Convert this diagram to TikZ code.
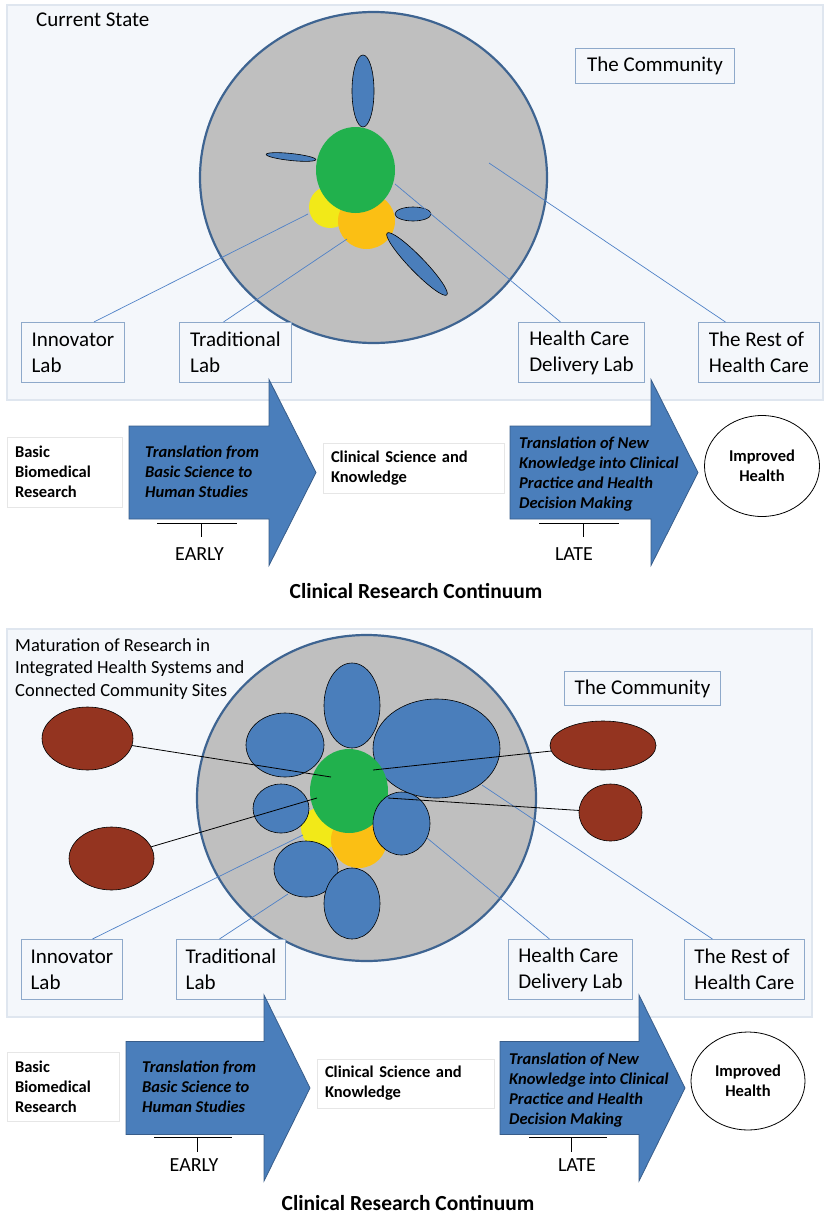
\documentclass[tikz,border=0pt]{standalone}
\usepackage{fontspec}
\setmainfont{Carlito}
\usetikzlibrary{positioning,shapes.geometric}
\definecolor{panelfill}{HTML}{F4F7FB}
\definecolor{panelline}{HTML}{DFE6EF}
\definecolor{boxline}{HTML}{8EA9CA}
\definecolor{rim}{HTML}{3E6491}
\definecolor{worldgray}{HTML}{BFBFBF}
\definecolor{labblue}{HTML}{4A7EBB}
\definecolor{arrowline}{HTML}{385D8A}
\definecolor{wireblue}{HTML}{4F81C7}
\definecolor{hubgreen}{HTML}{21B14D}
\definecolor{sunyellow}{HTML}{F2E918}
\definecolor{amber}{HTML}{FBBF14}
\definecolor{sitebrown}{HTML}{943420}
\definecolor{stageline}{HTML}{E6E6E6}
\newcommand\cardfont{\fontsize{21}{26}\selectfont}
\newcommand\notefont{\fontsize{18.5}{22.5}\selectfont}
\newcommand\stepfont{\bfseries\fontsize{16.5}{20}\selectfont}
\newcommand\pushfont{\bfseries\itshape\fontsize{16.5}{20}\selectfont}
\newcommand\phasefont{\fontsize{20}{24}\selectfont}
\newcommand\bannerfont{\bfseries\fontsize{21.5}{26}\selectfont}

\begin{document}
\begin{tikzpicture}
  [
      x=1pt, y=-1pt,
      panel/.style={draw=panelline, line width=1.5pt, fill=panelfill},
      world/.style={ellipse, draw=rim, line width=2.2pt, fill=worldgray, inner sep=0pt},
      lab/.style={ellipse, draw=black, line width=0.6pt, fill=labblue, inner sep=0pt},
      site/.style={ellipse, draw=black, line width=0.6pt, fill=sitebrown, inner sep=0pt},
      spot/.style={ellipse, fill=#1, inner sep=0pt},
      tag/.style={draw=boxline, line width=0.9pt, fill=panelfill, align=left, font=\cardfont, inner sep=0pt, anchor=north west},
      stage/.style={draw=stageline, line width=0.8pt, fill=white, align=left, font=\stepfont, inner xsep=8pt, inner ysep=0pt},
      push/.style={draw=arrowline, line width=0.8pt, fill=labblue},
      words/.style={anchor=west, align=left, font=\pushfont, inner sep=0pt},
      goal/.style={ellipse, draw=black, line width=0.8pt, fill=white, align=center, font=\stepfont, inner sep=0pt},
      wire/.style={draw=wireblue, line width=0.7pt},
      link/.style={draw=black, line width=0.8pt},
    ]
    \useasboundingbox (0,0) rectangle (824,1215);

    % current state
    \draw [panel] (7,5) rectangle (823,400);
    \node (cap1) [anchor=west, font=\cardfont, inner sep=0pt] at (36,19.5) {Current State};
    \node (world1) [world, minimum width=347, minimum height=331] at (373.5,177.5) {};
    \node (y1) [spot=sunyellow, minimum size=42] at (330,207) {};
    \node (o1) [spot=amber, minimum width=57, minimum height=56] at (366.5,221) {};
    \node (g1) [spot=hubgreen, minimum width=79, minimum height=86] at (355.5,170) {};
    \foreach \n/\x/\y/\w/\h/\r in {l1/363/91/22/72/0, l2/291/157/50/7/-6, l3/413/214/36/14/0, l4/417/264/86/15/-46}
      \node (\n) [lab, minimum width=\w, minimum height=\h, rotate=\r] at (\x,\y) {};

    \node (inno1) [tag, minimum width=103, minimum height=60] at (21,322) {Innovator\\Lab};
    \node (trad1) [tag, minimum width=112, minimum height=60] at (179,322) {Traditional\\Lab};
    \node (hcdl1) [tag, minimum width=126, minimum height=60] at (518,322) {Health Care\\Delivery Lab};
    \node (rest1) [tag, minimum width=121, minimum height=60] at (698,322) {The Rest of\\Health Care};
    \node (comm1) [tag, minimum width=159, minimum height=35] at (575,48) {The Community};

    \coordinate (p1) at (308,214);
    \coordinate (p2) at (347,239);
    \coordinate (p3) at (395,184);
    \coordinate (p4) at (489,163);
    \foreach \i/\dx/\j in {inno1/21/p1, trad1/-12/p2, hcdl1/-21/p3, rest1/-33.5/p4}
      \draw [wire] ([xshift=\dx]\i.north) -- (\j);

    % maturation
    \draw [panel] (7,629) rectangle (812,1017);
    \node (cap2) [anchor=north west, align=left, font=\notefont, inner sep=0pt] at (15,638)
      {Maturation of Research in\\Integrated Health Systems and\\Connected Community Sites};
    \node (world2) [world, minimum width=339, minimum height=326] at (366.5,798) {};
    \node (m3) [lab, minimum width=127, minimum height=99] at (436.5,748.5) {};
    \node (y2) [spot=sunyellow, minimum size=42] at (322,828) {};
    \node (o2) [spot=amber, minimum width=56, minimum height=56] at (359,840) {};
    \node (g2) [spot=hubgreen, minimum width=78, minimum height=84] at (349,791) {};
    \foreach \n/\x/\y/\w/\h in {m1/352/705.5/56/85, m2/285/745/78/64, m4/281/808.5/56/49, m5/401.5/823.5/57/63, m6/306/869/64/56, m7/352/903.5/56/71}
      \node (\n) [lab, minimum width=\w, minimum height=\h] at (\x,\y) {};
    \foreach \n/\x/\y/\w/\h in {s1/87.5/738.5/91/63, s2/111.5/858.5/85/63, s3/603/745.5/106/49, s4/610.5/812.5/63/57}
      \node (\n) [site, minimum width=\w, minimum height=\h] at (\x,\y) {};

    \node (inno2) [tag, minimum width=101, minimum height=60] at (21,939) {Innovator\\Lab};
    \node (trad2) [tag, minimum width=109, minimum height=60] at (176,939) {Traditional\\Lab};
    \node (hcdl2) [tag, minimum width=124, minimum height=60] at (508,939) {Health Care\\Delivery Lab};
    \node (rest2) [tag, minimum width=120, minimum height=60] at (684,939) {The Rest of\\Health Care};
    \node (comm2) [tag, minimum width=156, minimum height=34] at (564,671) {The Community};

    \coordinate (q1) at (303,835);
    \coordinate (q2) at (288,894);
    \coordinate (q3) at (427,838);
    \coordinate (q4) at (482,785);
    \foreach \i/\dx/\j in {inno2/20.5/q1, trad2/-11.5/q2, hcdl2/-21/q3, rest2/-32/q4}
      \draw [wire] ([xshift=\dx]\i.north) -- (\j);

    \coordinate (h1) at (331,777);
    \coordinate (h2) at (317,798);
    \coordinate (h3) at (373,770);
    \coordinate (h4) at (388,798);
    \foreach \i/\j in {s1/h1, s2/h2, s3/h3, s4/h4}
      \draw [link] (\i) -- (\j);

    % continuum rows
    \foreach \a/\b/\t/\c in {129/269/316/472.5, 510/651/698/472.5, 126/264/310/1088, 500/639/685/1088}
      \draw [push] (\a,\c-46.5) -- (\b,\c-46.5) -- (\b,\c-93) -- (\t,\c) -- (\b,\c+93)
        -- (\b,\c+46.5) -- (\a,\c+46.5) -- cycle;

    \node (basic1) [stage, text width=99pt, minimum height=70] at (64.5,472) {Basic\\Biomedical\\Research};
    \node (from1) [words] at (145,472) {Translation from\\Basic Science to\\Human Studies};
    \node (clin1) [stage, text width=165pt, minimum height=50] at (413.5,468) {Clinical Science and\\Knowledge};
    \node (into1) [words] at (519,474) {Translation of New\\Knowledge into Clinical\\Practice and Health\\Decision Making};
    \node (goal1) [goal, minimum width=115, minimum height=101] at (762,466) {Improved\\Health};
    \draw (157,523) -- (237,523) (201,523) -- (201,537);
    \draw (539,523) -- (619,523) (583,523) -- (583,537);
    \node (early1) [font=\phasefont] at (199.5,554.5) {EARLY};
    \node (late1) [font=\phasefont] at (574,554.5) {LATE};
    \node (cont1) [font=\bannerfont] at (416,591) {Clinical Research Continuum};

    \node (basic2) [stage, text width=96pt, minimum height=69] at (63,1086.5) {Basic\\Biomedical\\Research};
    \node (from2) [words] at (142,1087) {Translation from\\Basic Science to\\Human Studies};
    \node (clin2) [stage, text width=161pt, minimum height=49] at (405.5,1083.5) {Clinical Science and\\Knowledge};
    \node (into2) [words] at (509,1090) {Translation of New\\Knowledge into Clinical\\Practice and Health\\Decision Making};
    \node (goal2) [goal, minimum width=114, minimum height=98] at (748,1081) {Improved\\Health};
    \draw (154,1137) -- (232,1137) (197,1137) -- (197,1152);
    \draw (529,1137) -- (607,1137) (571,1137) -- (571,1152);
    \node (early2) [font=\phasefont] at (194,1165) {EARLY};
    \node (late2) [font=\phasefont] at (577,1165) {LATE};
    \node (cont2) [font=\bannerfont] at (408,1203) {Clinical Research Continuum};
  \end{tikzpicture}
\end{document}
